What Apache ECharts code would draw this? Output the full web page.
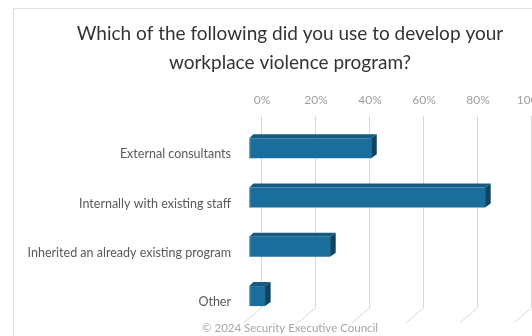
<!DOCTYPE html>
<html>
<head>
<meta charset="utf-8">
<script src="https://cdn.jsdelivr.net/npm/echarts@6/dist/echarts.min.js"></script>
<style>
html,body{margin:0;padding:0;background:#fff;}
#c{width:532px;height:336px;}
</style>
</head>
<body>
<div id="c"></div>
<script>
const titleText = 'Which of the following did you use to develop your\nworkplace violence program?';
const footerText = '© 2024 Security Executive Council';
const categories = ['External consultants', 'Internally with existing staff', 'Inherited an already existing program', 'Other'];
const values = [42.5, 84.7, 27.3, 3.2];
const tickValues = [0, 20, 40, 60, 80, 100];

const chart = echarts.init(document.getElementById('c'), null, {renderer: 'canvas'});

const barData = categories.map((c, i) => [values[i], c]);
const gridData = tickValues.map(t => [t, categories[0]]);

function renderBar(params, api) {
  const v = api.value(0);
  const cat = api.value(1);
  const p0 = api.coord([0, cat]);
  const p1 = api.coord([v, cat]);
  const cy = p0[1] + 4.2;
  const h = 20;
  const xL = p0[0] - 12.7;
  const xR = p1[0] - 5.6;
  const dx = 5.6, dy = -4.2;
  const top = cy - h / 2, bot = cy + h / 2;
  return {
    type: 'group',
    children: [
      {type: 'polygon', shape: {points: [[xL, top], [xR, top], [xR + dx, top + dy], [xL + 4, top + dy]]},
        style: {fill: '#155a80'}},
      {type: 'polygon', shape: {points: [[xR, top], [xR + dx, top + dy], [xR + dx, bot + dy], [xR, bot]]},
        style: {fill: '#0c4462'}},
      {type: 'rect', shape: {x: xL, y: top, width: xR - xL, height: h},
        style: {fill: '#1b6d9c'}},
      {type: 'line', shape: {x1: xL + 0.5, y1: top, x2: xL + 0.5, y2: bot},
        style: {stroke: '#5fb0d6', lineWidth: 1}}
    ]
  };
}

function renderGrid(params, api) {
  const t = api.value(0);
  const p = api.coord([t, api.value(1)]);
  const cs = params.coordSys;
  const x = Math.round(p[0]) - 0.5;
  const yTop = cs.y - 3.5;
  const yBot = cs.y + cs.height - 8.5;
  return {
    type: 'polyline',
    shape: {points: [[x, yTop], [x, yBot], [x - 18, yBot + 15]]},
    style: {stroke: '#d9d9d9', lineWidth: 1, fill: null}
  };
}

chart.setOption({
  animation: false,
  backgroundColor: '#ffffff',
  title: [
    {text: titleText, left: 290, top: 19.5, padding: 0, textAlign: 'center',
      textStyle: {fontFamily: 'Lato', fontSize: 19, fontWeight: 'normal', color: '#333333', lineHeight: 29}},
    {text: footerText, left: 290, top: 321, padding: 0, textAlign: 'center',
      textStyle: {fontFamily: 'Lato', fontSize: 11.5, fontWeight: 'normal', color: '#a6a6a6', lineHeight: 14}}
  ],
  graphic: [
    {type: 'rect', silent: true, z: -10, shape: {x: 13.5, y: 8.5, width: 560, height: 360},
      style: {fill: 'none', stroke: '#dedede', lineWidth: 1}}
  ],
  grid: {left: 262, right: 0, top: 119.5, bottom: 19.5, containLabel: false, outerBoundsMode: 'none'},
  xAxis: {
    type: 'value', position: 'top', min: 0, max: 100, interval: 20,
    axisLine: {show: false}, axisTick: {show: false}, splitLine: {show: false},
    axisLabel: {formatter: '{value}%', color: '#9e9e9e', fontFamily: 'Lato', fontSize: 12, margin: 13.5,
      showMinLabel: true, showMaxLabel: true, hideOverlap: false}
  },
  yAxis: {
    type: 'category', inverse: true, data: categories,
    axisLine: {show: false}, axisTick: {show: false}, splitLine: {show: false},
    axisLabel: {color: '#595959', fontFamily: 'Lato', fontSize: 12.5, margin: 31,
      verticalAlign: 'top', lineHeight: 20.5}
  },
  series: [
    {type: 'custom', name: 'grid', data: gridData, encode: {x: 0, y: 1}, renderItem: renderGrid, silent: true, z: 1},
    {type: 'custom', name: 'bars', data: barData, encode: {x: 0, y: 1}, renderItem: renderBar, z: 2}
  ]
});
</script>
</body>
</html>
